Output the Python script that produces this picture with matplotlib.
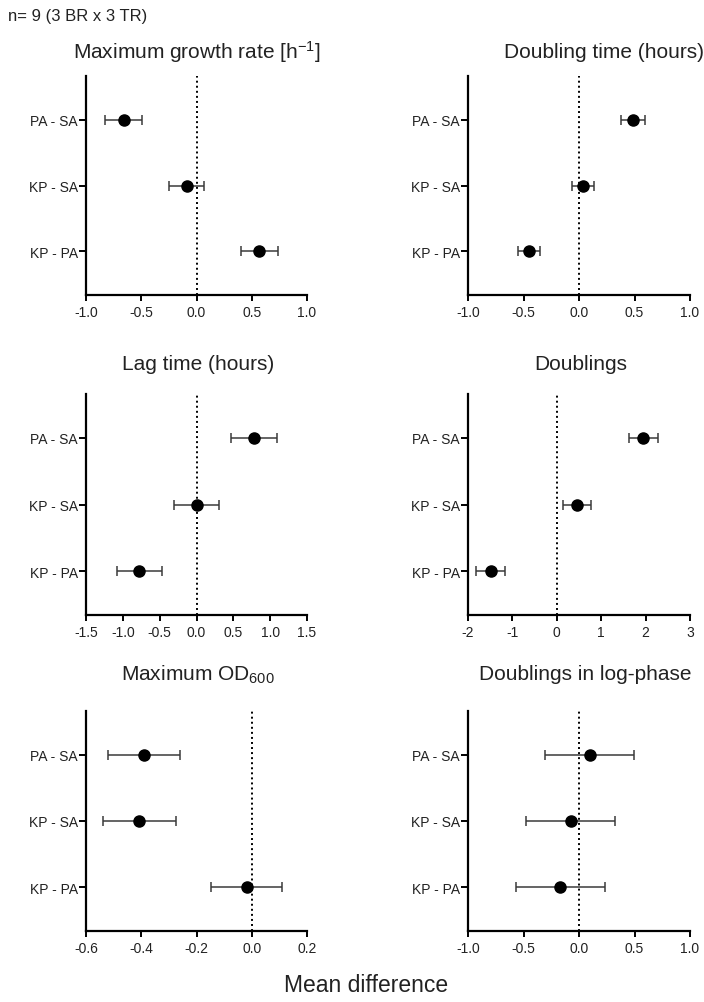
import matplotlib
matplotlib.use("Agg")
import matplotlib.pyplot as plt

plt.rcParams['font.family'] = ['Liberation Sans', 'DejaVu Sans']
plt.rcParams['mathtext.fontset'] = 'custom'
plt.rcParams['mathtext.rm'] = 'Liberation Sans'
plt.rcParams['mathtext.it'] = 'Liberation Sans:italic'
plt.rcParams['mathtext.bf'] = 'Liberation Sans:bold'
plt.rcParams['axes.unicode_minus'] = False

# ---------------- data ----------------
categories = ["PA - SA", "KP - SA", "KP - PA"]

growth_rate_mean = [-0.66, -0.09, 0.57]
growth_rate_err = [0.165, 0.16, 0.165]

doubling_time_mean = [0.485, 0.035, -0.45]
doubling_time_err = [0.11, 0.10, 0.10]

lag_time_mean = [0.785, 0.0, -0.775]
lag_time_err = [0.31, 0.31, 0.31]

doublings_mean = [1.95, 0.45, -1.49]
doublings_err = [0.32, 0.32, 0.32]

od600_mean = [-0.389, -0.407, -0.019]
od600_err = [0.131, 0.133, 0.13]

log_doublings_mean = [0.096, -0.074, -0.17]
log_doublings_err = [0.40, 0.40, 0.40]

titles = ["Maximum growth rate [h$^{\\mathregular{-1}}$]", "Doubling time (hours)",
          "Lag time (hours)", "Doublings",
          "Maximum OD$_{\\mathregular{600}}$", "Doublings in log-phase"]
xlims = [(-1.0, 1.0), (-1.0, 1.0), (-1.5, 1.5), (-2, 3), (-0.6, 0.2), (-1.0, 1.0)]
xticks = [[-1.0, -0.5, 0.0, 0.5, 1.0],
          [-1.0, -0.5, 0.0, 0.5, 1.0],
          [-1.5, -1.0, -0.5, 0.0, 0.5, 1.0, 1.5],
          [-2, -1, 0, 1, 2, 3],
          [-0.6, -0.4, -0.2, 0.0, 0.2],
          [-1.0, -0.5, 0.0, 0.5, 1.0]]
xtick_fmt = ["{:.1f}", "{:.1f}", "{:.1f}", "{:.0f}", "{:.1f}", "{:.1f}"]
means = [growth_rate_mean, doubling_time_mean, lag_time_mean,
         doublings_mean, od600_mean, log_doublings_mean]
errs = [growth_rate_err, doubling_time_err, lag_time_err,
        doublings_err, od600_err, log_doublings_err]

# ---------------- layout (pixels) ----------------
W, H = 704, 1003
fig = plt.figure(figsize=(W / 100, H / 100), dpi=100)

boxes = [(86, 307, 77, 296), (468, 690, 77, 296),
         (86, 307, 395, 616), (468, 690, 395, 616),
         (86, 307, 712, 932), (468, 690, 712, 932)]
title_pos = [(197, 52), (604, 52), (198, 365), (581, 365), (198, 675), (585, 675)]

txt_color = '#222222'

for i in range(6):
    l, r, t, b = boxes[i]
    ax = fig.add_axes([l / W, 1 - b / H, (r - l) / W, (b - t) / H])
    y = list(range(len(categories)))
    ax.errorbar(means[i], y, xerr=errs[i], fmt='o', color='black', ms=8.0,
                ecolor='#3a3a3a', elinewidth=1.1, capsize=3.6, capthick=1.1,
                clip_on=False, zorder=3)
    ax.axvline(0, color='black', lw=1.4, ls=(0, (1, 1.6)), zorder=1)
    ax.set_xlim(*xlims[i])
    ax.set_ylim(2.66, -0.66)
    ax.set_yticks(y)
    ax.set_yticklabels(categories, fontsize=10, color=txt_color)
    ax.set_xticks(xticks[i])
    ax.set_xticklabels([xtick_fmt[i].format(v) for v in xticks[i]], fontsize=10, color=txt_color)
    for s in ['top', 'right']:
        ax.spines[s].set_visible(False)
    for s in ['left', 'bottom']:
        ax.spines[s].set_linewidth(1.6)
    ax.tick_params(axis='x', direction='out', length=4.5, width=1.4, pad=3)
    ax.tick_params(axis='y', direction='out', length=5, width=1.4, pad=1)
    ax.patch.set_alpha(0)
    tx, ty = title_pos[i]
    fig.text(tx / W, 1 - ty / H, titles[i], fontsize=15, ha='center', va='center', color=txt_color)

fig.text(8 / W, 1 - 17 / H, "n= 9 (3 BR x 3 TR)", fontsize=12, ha='left', va='center', color=txt_color)
fig.text(366 / W, 1 - 985 / H, "Mean difference", fontsize=16.5, ha='center', va='center', color=txt_color)

fig.savefig("out.png", dpi=100)
